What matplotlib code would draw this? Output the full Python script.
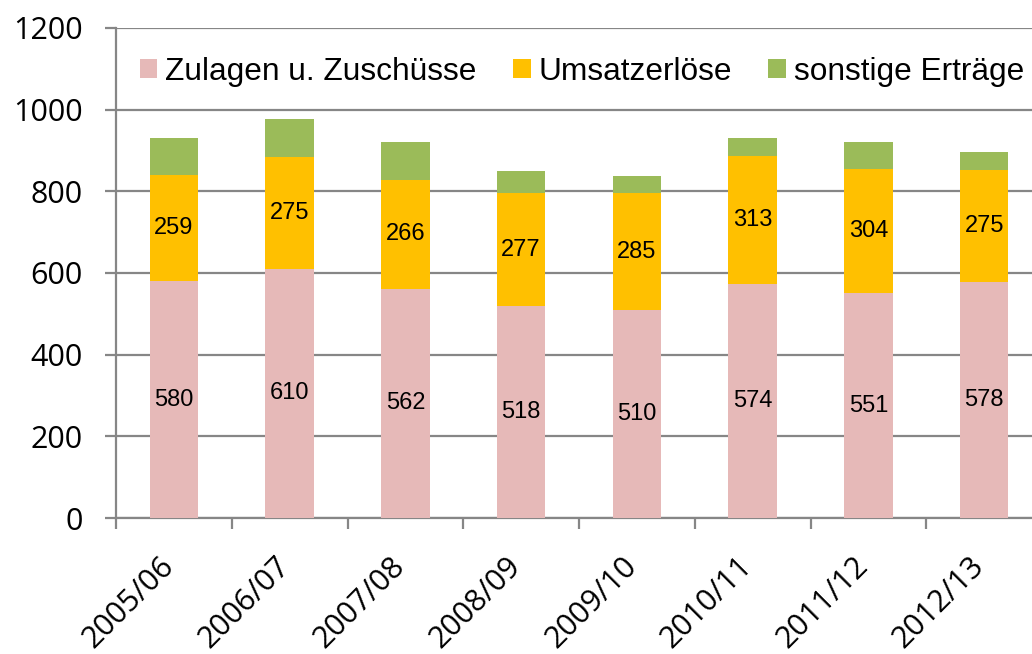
import numpy as np
import matplotlib
matplotlib.use('Agg')
import matplotlib.pyplot as plt
from matplotlib.transforms import ScaledTranslation

# Data
years = ['2005/06', '2006/07', '2007/08', '2008/09', '2009/10', '2010/11', '2011/12', '2012/13']
zulagen = [580, 610, 562, 518, 510, 574, 551, 578]
umsatz = [259, 275, 266, 277, 285, 313, 304, 275]
sonstige = [91, 91, 92, 55, 43, 43, 67, 43]

c_pink = '#E6B9B8'
c_yellow = '#FFC000'
c_green = '#9BBB59'
c_grid = '#868686'

fig = plt.figure(figsize=(10.32, 6.54), dpi=100)
ax = fig.add_axes([116 / 1032, 1 - 518 / 654, 926 / 1032, 490 / 654])

x = np.arange(len(years))
w = 0.42
bottom2 = np.array(zulagen)
bottom3 = bottom2 + np.array(umsatz)

b1 = ax.bar(x, zulagen, w, color=c_pink, label='Zulagen u. Zuschüsse', zorder=3)
b2 = ax.bar(x, umsatz, w, bottom=bottom2, color=c_yellow, label='Umsatzerlöse', zorder=3)
b3 = ax.bar(x, sonstige, w, bottom=bottom3, color=c_green, label='sonstige Erträge', zorder=3)

# Value labels in the middle of pink and yellow segments
for i in range(len(years)):
    ax.text(x[i], zulagen[i] / 2, str(zulagen[i]), ha='center', va='center',
            fontsize=17, family='Liberation Sans', zorder=4)
    ax.text(x[i], bottom2[i] + umsatz[i] / 2, str(umsatz[i]), ha='center', va='center',
            fontsize=17, family='Liberation Sans', zorder=4)

ax.set_ylim(0, 1200)
ax.set_xlim(-0.5, len(years) - 0.5)
ax.set_yticks(np.arange(0, 1201, 200))
ax.yaxis.grid(True, color=c_grid, linewidth=1.6, zorder=0)
ax.set_axisbelow(True)

for s in ['top', 'right']:
    ax.spines[s].set_visible(False)
for s in ['left', 'bottom']:
    ax.spines[s].set_color(c_grid)
    ax.spines[s].set_linewidth(1.6)

ax.tick_params(axis='y', length=8, width=1.6, color=c_grid, pad=16)
for lab in ax.get_yticklabels():
    lab.set_fontfamily('Open Sans')
    lab.set_fontsize(22)

ax.set_xticks(x)
ax.set_xticklabels(years, rotation=45, ha='right', va='top', fontsize=22,
                   family='Open Sans')
ax.set_xticks(np.arange(-0.5, len(years), 1), minor=True)
ax.tick_params(axis='x', which='major', length=0, pad=24)
ax.tick_params(axis='x', which='minor', length=8, width=1.6, color=c_grid)
shift = ScaledTranslation(0.06, 0, fig.dpi_scale_trans)
for lab in ax.get_xticklabels():
    lab.set_transform(lab.get_transform() + shift)

fig.legend(handles=[b1, b2, b3], loc='center left',
           bbox_to_anchor=(140 / 1032, 1 - 72 / 654), ncol=3, frameon=False,
           prop={'family': 'Liberation Sans', 'size': 22.8},
           handlelength=0.55, handleheight=0.55, handletextpad=0.25,
           columnspacing=1.15, borderpad=0, borderaxespad=0)

plt.savefig('out.png', dpi=100)
